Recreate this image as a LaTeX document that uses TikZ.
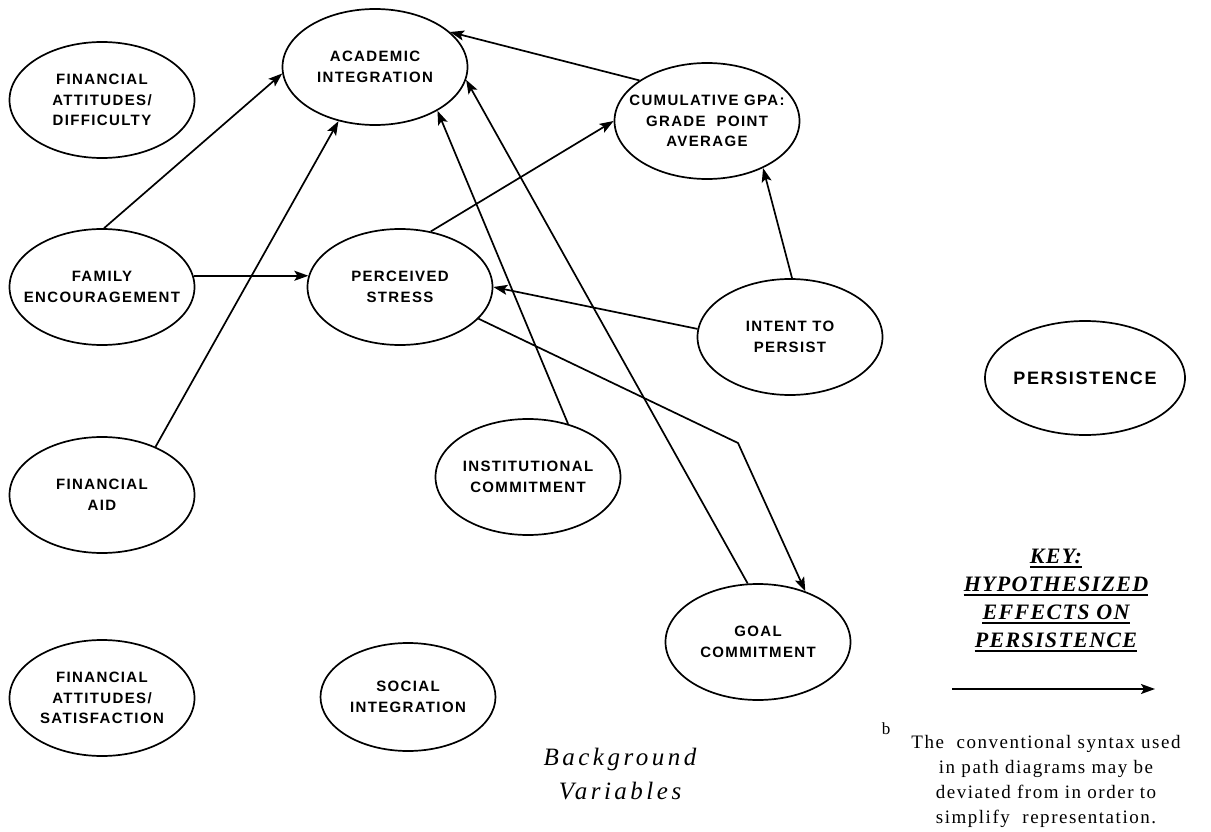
\documentclass[tikz,border=0pt]{standalone}
\usepackage{fontspec}
\setmainfont{Liberation Serif}
\newfontfamily\elipsefont[LetterSpace=9]{Liberation Sans}
\newfontfamily\chavefont[LetterSpace=6]{Liberation Serif}
\newfontfamily\fundofont[LetterSpace=14]{Liberation Serif}
\newfontfamily\notafont[LetterSpace=8]{Liberation Serif}
\usepackage{tikz}
\usetikzlibrary{arrows.meta, shapes.geometric, positioning}

\tikzset{
  var/.style={draw, ellipse, line width=1.7pt, minimum width=185pt, minimum height=116pt,
    inner xsep=-40pt, inner ysep=-15pt, align=center,
    font=\elipsefont\bfseries\fontsize{15}{20.5}\selectfont},
  seta/.style={-{Stealth[length=14pt,width=10pt,inset=3pt]}, line width=1.7pt},
  chave/.style={font=\chavefont\bfseries\itshape\fontsize{22}{26}\selectfont, inner sep=0pt},
}

\begin{document}
\begin{tikzpicture}[x=1pt,y=-1pt]
\useasboundingbox (0,0) rectangle (1211,832);

% Variaveis do modelo
\node[var] (fdif) at (102,100) {FINANCIAL\\ATTITUDES/\\DIFFICULTY};
\node[var] (acad) at (375,67) {ACADEMIC\\INTEGRATION};
\node[var] (gpa) at (707,121) {CUMULATIVE GPA:\\GRADE\ \ POINT\\AVERAGE};
\node[var] (fam) at (102,287) {FAMILY\\ENCOURAGEMENT};
\node[var] (stress) at (400,287) {PERCEIVED\\STRESS};
\node[var] (intent) at (790,337) {INTENT TO\\PERSIST};
\node[var, minimum width=200pt, minimum height=114pt,
  font=\elipsefont\bfseries\fontsize{18}{22}\selectfont] (pers) at (1085,378) {PERSISTENCE};
\node[var] (aid) at (102,495) {FINANCIAL\\AID};
\node[var] (inst) at (528,477) {INSTITUTIONAL\\COMMITMENT};
\node[var] (goal) at (758,642) {GOAL\\COMMITMENT};
\node[var] (fsat) at (102,698) {FINANCIAL\\ATTITUDES/\\SATISFACTION};
\node[var, minimum width=175pt, minimum height=108pt] (social) at (408,697) {SOCIAL\\INTEGRATION};

% Setas entre as variaveis
\draw[seta] (fam.88) -- (acad.184);
\draw[seta] (aid.42) -- (acad.236);
\draw[seta] (fam.7) -- (stress.173);
\draw[seta] (stress.61) -- (gpa.west);
\draw[seta] (gpa.149) -- (acad.25);
\draw[seta] (intent.88) -- (gpa.-40);
\draw[seta] (intent.175) -- (stress.east);
\draw[seta] (inst.53) -- (acad.-35);
\draw[seta] (goal.100) -- (acad.-8);

% Seta com dobra ate o compromisso
\coordinate (dobra) at (738,443);
\draw[seta] (stress.-22) -- (dobra) -- (goal.47);

% Legenda
\node[chave] (k1) at (1056,556) {KEY:};
\node[chave] (k2) at (1056,584) {HYPOTHESIZED};
\node[chave] (k3) at (1056,612) {EFFECTS ON};
\node[chave] (k4) at (1056,640) {PERSISTENCE};
\foreach \k in {k1,k2,k3,k4}
  \draw[line width=1.4pt] ([yshift=-4pt]\k.base west) -- ([yshift=-4pt]\k.base east);

\coordinate (kini) at (952,689);
\coordinate (kfim) at (1155,689);
\draw[seta] (kini) -- (kfim);

% Nota
\node[font=\notafont\fontsize{17}{18}\selectfont] (nb) at (886,729) {b};
\node[align=center, font=\notafont\fontsize{19}{25}\selectfont] (nota) at (1046,781)
  {The\ \ conventional syntax used\\in path diagrams may be\\deviated from in order to\\simplify\ \ representation.};

% Variaveis de fundo
\node[align=center, font=\fundofont\itshape\fontsize{25}{34}\selectfont] (fundo) at (620,774)
  {Background\\Variables};

\end{tikzpicture}
\end{document}
